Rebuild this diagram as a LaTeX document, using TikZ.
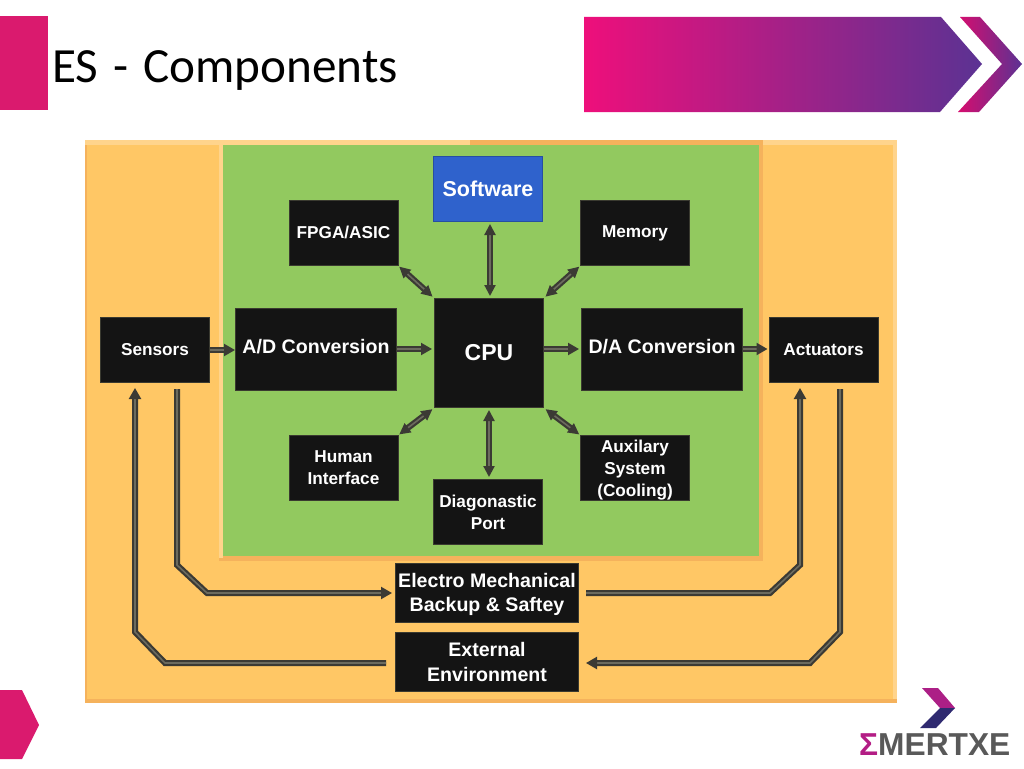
\documentclass[tikz,border=0pt]{standalone}
\usepackage{tikz}
\usepackage{xcolor}
\usepackage{fontspec}
\setmainfont{Liberation Sans}
\newfontfamily\titlefont{Carlito}
\usetikzlibrary{arrows.meta}

\definecolor{slidepink}{HTML}{EE0F7B}
\definecolor{tabpink}{HTML}{DA1A6E}
\definecolor{slidepurple}{HTML}{5B3293}
\definecolor{slidenavy}{HTML}{2F2A70}
\definecolor{panelorange}{HTML}{FFC765}
\definecolor{rimorange}{HTML}{F5B25C}
\definecolor{rimpale}{HTML}{FFD48C}
\definecolor{panelgreen}{HTML}{92C95F}
\definecolor{softblue}{HTML}{2F62CC}
\definecolor{boxblack}{HTML}{141414}
\definecolor{boxedge}{HTML}{3A3A30}
\definecolor{pipedark}{HTML}{3B3A34}
\definecolor{pipelight}{HTML}{6C6B5E}
\definecolor{logogray}{HTML}{595959}

\tikzset{
  blackbox/.style={draw=boxedge, fill=boxblack, line width=1pt, text=white,
    font=\bfseries\fontsize{17.2}{22}\selectfont, align=center, inner sep=0pt,
    minimum width=109pt, minimum height=65pt},
  widebox/.style={blackbox, minimum width=161pt, minimum height=82pt, font=\bfseries\fontsize{19.6}{24}\selectfont},
  basebox/.style={blackbox, minimum width=183pt, minimum height=59pt, font=\bfseries\fontsize{19.6}{24.5}\selectfont},
  pipe/.style={draw=pipedark, double=pipelight, double distance=1.6pt, line width=2.2pt, line join=miter},
  oneway/.style={pipe, -{Triangle[length=11pt,width=12pt]}},
  twoway/.style={pipe, {Triangle[length=11pt,width=11pt]}-{Triangle[length=11pt,width=11pt]}}
}

\begin{document}
\begin{tikzpicture}[x=1pt, y=-1pt]
  \useasboundingbox (0,0) rectangle (1024,768);
  \fill[white] (0,0) rectangle (1024,768);

  \fill[tabpink] (0,16) rectangle (48,110);
  \fill[tabpink] (0,690) -- (22,690) -- (39,725) -- (22,759) -- (0,759) -- cycle;
  \shade[left color=slidepink, right color=slidepurple] (584,17) -- (941,17) -- (982,64) -- (940,112) -- (584,112) -- cycle;
  \shade[left color=slidepink!90!black, right color=slidepurple] (960,17) -- (980,17) -- (1022,64) -- (979,112) -- (958,112) -- (1002,64) -- cycle;
  \draw (52,82) node[anchor=base west, inner sep=0pt, font=\titlefont\fontsize{49.2}{50}\selectfont] (title) {\spaceskip=15pt ES - Components};

  \fill[panelorange] (85,140) rectangle (897,703);
  \fill[rimorange] (85,140) rectangle (86.5,703);
  \fill[rimpale] (85,140) rectangle (470,145);
  \fill[rimorange] (470,140) rectangle (763,145);
  \fill[rimpale] (763,140) rectangle (897,145);
  \fill[rimpale] (893,145) rectangle (897,699);
  \fill[rimorange] (85,699) rectangle (897,703);
  \fill[rimorange] (219,145) rectangle (763,561);
  \fill[rimpale] (219,145) rectangle (223,558);
  \fill[panelgreen] (223,145) rectangle (759,556);

  \draw (488,189) node[blackbox, draw=softblue!80!black, fill=softblue, font=\bfseries\fontsize{21.5}{24}\selectfont] (software) {Software};
  \draw (343.5,233) node[blackbox] (fpga) {\raisebox{2pt}{FPGA/ASIC}};
  \draw (635,233) node[blackbox] (memory) {Memory};
  \draw (155,350) node[blackbox] (sensors) {Sensors};
  \draw (316,349.5) node[widebox] (adc) {\raisebox{6.5pt}{A/D Conversion}};
  \draw (489,353) node[blackbox, minimum height=109pt, font=\bfseries\fontsize{23}{24}\selectfont] (cpu) {CPU};
  \draw (662,349.5) node[widebox] (dac) {\raisebox{6.5pt}{D/A Conversion}};
  \draw (823.5,350) node[blackbox] (actuators) {Actuators};
  \draw (343.5,468) node[blackbox] (human) {Human\\Interface};
  \draw (635,468) node[blackbox] (auxsys) {\rule{0pt}{17pt}Auxilary\\System\\(Cooling)};
  \draw (488,512) node[blackbox] (diagport) {Diagonastic\\Port};
  \draw (487,592.5) node[basebox] (electro) {\rule{0pt}{18pt}Electro Mechanical\\Backup \& Saftey};
  \draw (487,662) node[basebox] (external) {External\\Environment};

  \draw[oneway] (sensors.east |- 0,350) -- (adc.west |- 0,350);
  \draw[oneway] (adc.east |- 0,349) -- ([xshift=-2pt]cpu.west |- 0,349);
  \draw[oneway] (cpu.east |- 0,349) -- ([xshift=-2pt]dac.west |- 0,349);
  \draw[oneway] (dac.east |- 0,349) -- ([xshift=-1pt]actuators.west |- 0,349);

  \draw[twoway, shorten <=2pt, shorten >=2pt] (software.south -| 490,0) -- (cpu.north -| 490,0);
  \draw[twoway, shorten <=2pt, shorten >=2pt] (diagport.north -| 489,0) -- (cpu.south -| 489,0);
  \draw[twoway, shorten <=1pt, shorten >=2pt] (fpga.south east) -- (cpu.north west);
  \draw[twoway, shorten <=1pt, shorten >=2pt] (memory.south west) -- (cpu.north east);
  \draw[twoway, shorten <=1pt, shorten >=2pt] (human.north east) -- (cpu.south west);
  \draw[twoway, shorten <=1pt, shorten >=2pt] (auxsys.north west) -- (cpu.south east);

  \coordinate (sensorbendtop) at (177,565);
  \coordinate (sensorbendlow) at (207,593);
  \coordinate (extbendlow) at (165,663);
  \coordinate (extbendtop) at (135,632);
  \coordinate (actbendlow) at (770,593);
  \coordinate (actbendtop) at (800,565);
  \coordinate (backbendtop) at (840,632);
  \coordinate (backbendlow) at (810,663);

  \draw[oneway, shorten <=6pt, shorten >=3pt] (sensors.south -| sensorbendtop) -- (sensorbendtop) -- (sensorbendlow) -- (electro.west |- sensorbendlow);
  \draw[oneway, shorten <=9pt, shorten >=5pt] (external.west |- extbendlow) -- (extbendlow) -- (extbendtop) -- (sensors.south -| extbendtop);
  \draw[oneway, shorten <=7pt, shorten >=5pt] (electro.east |- actbendlow) -- (actbendlow) -- (actbendtop) -- (actuators.south -| actbendtop);
  \draw[oneway, shorten <=6pt, shorten >=7pt] (actuators.south -| backbendtop) -- (backbendtop) -- (backbendlow) -- (external.east |- backbendlow);

  \fill[slidepink!55!slidepurple] (922,688) -- (938,688) -- (955,708) -- (940,708) -- cycle;
  \fill[slidenavy] (955,708) -- (936,728) -- (920,728) -- (940,708) -- cycle;
  \draw (859,755) node[anchor=base west, inner sep=0pt, font=\bfseries\fontsize{31.7}{32}\selectfont] (logotext) {\textcolor{slidepink!60!slidepurple}{Σ}\textcolor{logogray}{MERTXE}};
\end{tikzpicture}
\end{document}
